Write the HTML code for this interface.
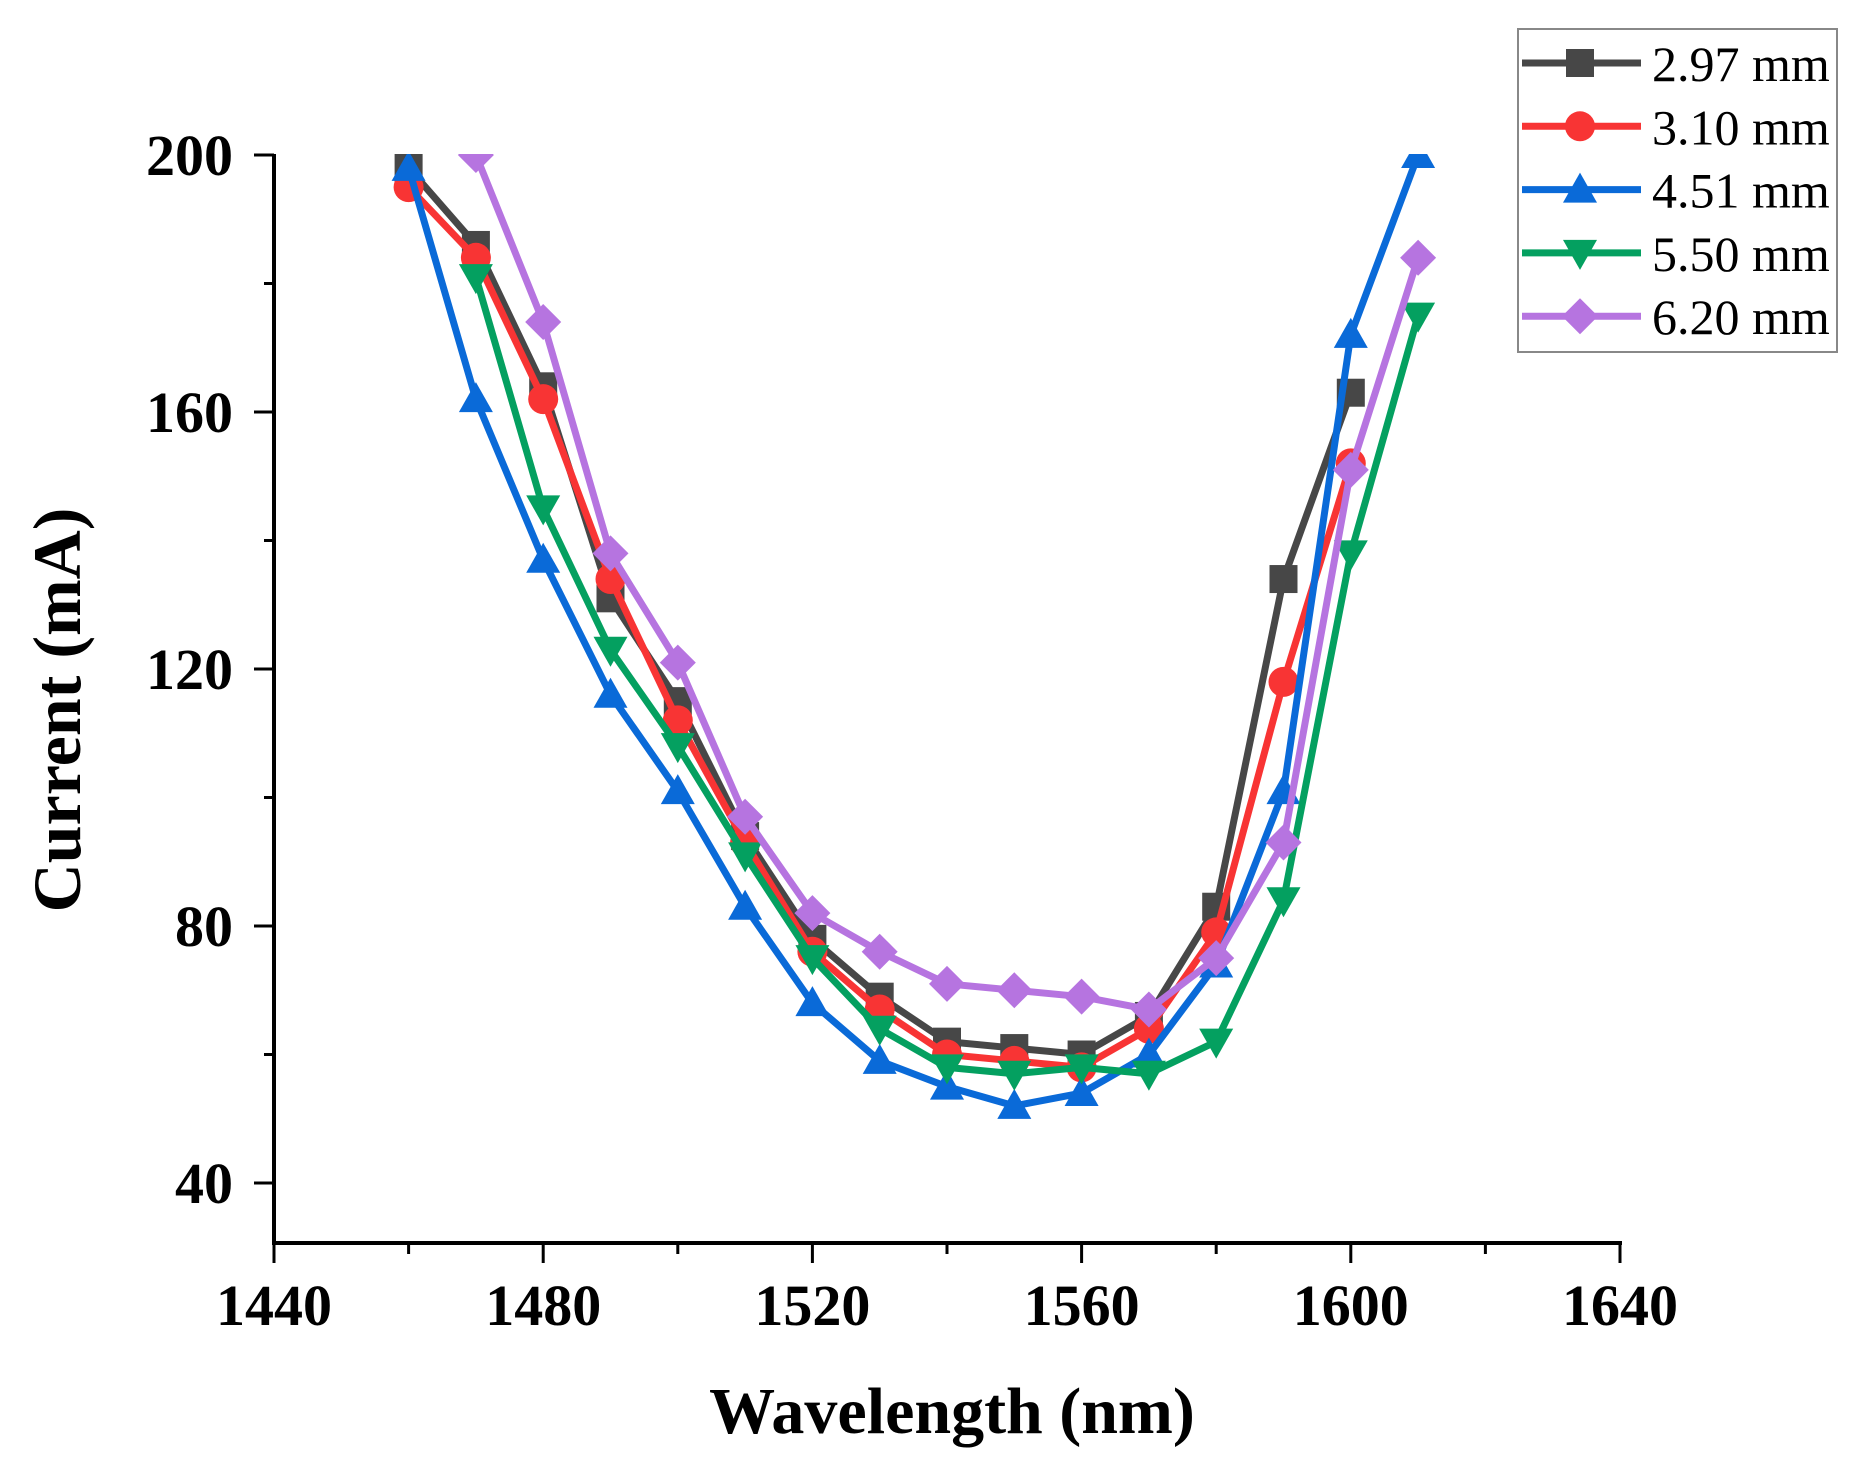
<!DOCTYPE html>
<html><head><meta charset="utf-8"><style>
html,body{margin:0;padding:0;background:#fff;}
svg{display:block;}
</style></head><body>
<svg id="s" width="1861" height="1469" xmlns="http://www.w3.org/2000/svg" font-family="Liberation Serif, serif">
<defs><clipPath id="c"><rect x="274" y="154" width="1400" height="1089"/></clipPath></defs>
<g id="axes" stroke="#000" stroke-width="4" fill="none">
<line x1="274" y1="154" x2="274" y2="1243"/>
<line x1="272" y1="1243" x2="1622" y2="1243"/>
</g>
<g id="ticks" stroke="#000" stroke-width="3"></g>
<g id="labels" font-weight="bold" font-size="58" fill="#000"></g>
<g id="data" clip-path="url(#c)"></g>
<text x="952" y="1433" text-anchor="middle" font-weight="bold" font-size="66">Wavelength (nm)</text>
<text transform="translate(80,710) rotate(-90)" text-anchor="middle" font-weight="bold" font-size="68">Current (mA)</text>
<rect x="1518" y="29" width="319" height="323" fill="#fff" stroke="#888" stroke-width="2"/>
<g id="legend"></g>
</svg>
<script>
const NS="http://www.w3.org/2000/svg";
function el(p,t,a,txt){const e=document.createElementNS(NS,t);for(const k in a)e.setAttribute(k,a[k]);if(txt!==undefined)e.textContent=txt;p.appendChild(e);return e;}
const X=w=>274+(w-1440)*6.73, Y=v=>155+(200-v)*6.425;
const tk=document.getElementById('ticks'), lb=document.getElementById('labels');
for(let w=1440;w<=1640;w+=20){const maj=(w-1440)%40==0;el(tk,'line',{x1:X(w),x2:X(w),y1:1243,y2:1243+(maj?20:11)});if(maj)el(lb,'text',{x:X(w),y:1325,'text-anchor':'middle'},w);}
for(let v=40;v<=200;v+=20){const maj=v%40==0;el(tk,'line',{x1:274,x2:274-(maj?20:10),y1:Y(v),y2:Y(v)});if(maj)el(lb,'text',{x:233,y:Y(v)+20,'text-anchor':'end'},v);}
const S=[
 {c:'#474747',m:'sq',x0:1460,d:[198,186,164,131,115,94,78,69,62,61,60,66,83,134,163],n:'2.97 mm'},
 {c:'#f83434',m:'ci',x0:1460,d:[195,184,162,134,112,93,76,67,60,59,58,64,79,118,152],n:'3.10 mm'},
 {c:'#0a6ad8',m:'up',x0:1460,d:[198,162,137,116,101,83,68,59,55,52,54,60,74,101,172,200],n:'4.51 mm'},
 {c:'#04a060',m:'dn',x0:1470,d:[181,145,123,108,91,75,64,58,57,58,57,62,84,138,175],n:'5.50 mm'},
 {c:'#b674e0',m:'di',x0:1470,d:[200,174,138,121,97,82,76,71,70,69,67,75,93,151,184],n:'6.20 mm'}];
function mk(p,m,x,y,c){
 if(m=='sq')el(p,'rect',{x:x-14,y:y-14,width:28,height:28,fill:c});
 else if(m=='ci')el(p,'circle',{cx:x,cy:y,r:15,fill:c});
 else if(m=='up')el(p,'polygon',{points:`${x},${y-17} ${x+17},${y+13} ${x-17},${y+13}`,fill:c});
 else if(m=='dn')el(p,'polygon',{points:`${x},${y+17} ${x+17},${y-13} ${x-17},${y-13}`,fill:c});
 else el(p,'polygon',{points:`${x},${y-18} ${x+18},${y} ${x},${y+18} ${x-18},${y}`,fill:c});
}
const dg=document.getElementById('data'), lg=document.getElementById('legend');
S.forEach((s,i)=>{
 const pts=s.d.map((v,j)=>[X(s.x0+10*j),Y(v)]);
 el(dg,'polyline',{points:pts.map(p=>p.join(',')).join(' '),fill:'none',stroke:s.c,'stroke-width':7,'stroke-linejoin':'round'});
 pts.forEach(p=>mk(dg,s.m,p[0],p[1],s.c));
 const ly=63+i*63.3;
 el(lg,'line',{x1:1522,x2:1641,y1:ly,y2:ly,stroke:s.c,'stroke-width':7});
 mk(lg,s.m,1580,ly,s.c);
 el(lg,'text',{x:1652,y:ly+18,'font-size':50,fill:'#000'},s.n);
});
</script>
</body></html>
